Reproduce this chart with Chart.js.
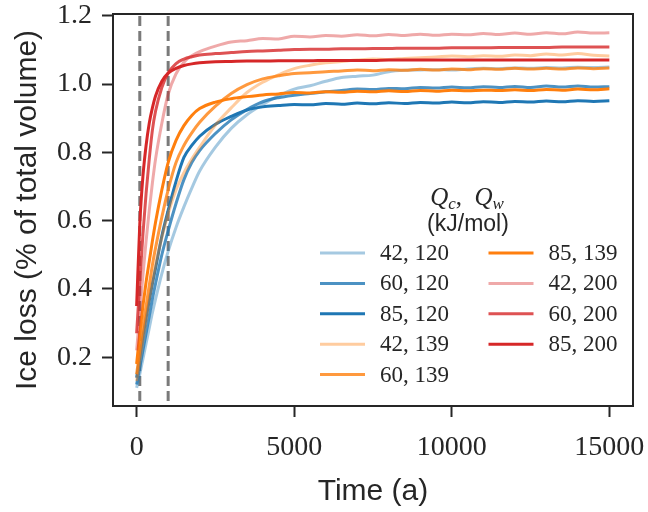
<!DOCTYPE html>
<html>
<head>
<meta charset="utf-8">
<script src="https://cdn.jsdelivr.net/npm/chart.js@4.4.1/dist/chart.umd.min.js"></script>
<style>
  html, body { margin: 0; padding: 0; background: #fff; }
</style>
</head>
<body>
<canvas id="iceChart" width="648" height="512"></canvas>
<script>
// years (a)
const years = [0, 100, 200, 300, 400, 500, 600, 800, 1000, 1250, 1500, 1750,
  2000, 2500, 3000, 3500, 4000, 4500, 5000, 5500, 6000, 6500, 7000, 7500, 8000,
  8500, 9000, 9500, 10000, 10500, 11000, 11500, 12000, 12500, 13000, 13500, 14000, 14500, 15000];

// legend labels (Qc, Qw)
const seriesLabels = ['42, 120', '60, 120', '85, 120', '42, 139', '60, 139', '85, 139', '42, 200', '60, 200', '85, 200'];

// ice loss, % of total volume
const loss_42_120 = [0.11, 0.15, 0.195, 0.24, 0.285, 0.33, 0.37, 0.445, 0.51, 0.58, 0.64, 0.695,
  0.745, 0.815, 0.87, 0.91, 0.94, 0.965, 0.985, 0.995, 1.008, 1.019, 1.023, 1.026, 1.036,
  1.04, 1.041, 1.042, 1.041, 1.044, 1.046, 1.045, 1.047, 1.046, 1.048, 1.047, 1.049, 1.048, 1.05];
const loss_60_120 = [0.12, 0.17, 0.22, 0.27, 0.32, 0.37, 0.415, 0.50, 0.57, 0.65, 0.72, 0.77,
  0.805, 0.855, 0.895, 0.925, 0.948, 0.96, 0.967, 0.972, 0.977, 0.981, 0.985, 0.984, 0.987,
  0.986, 0.99, 0.988, 0.991, 0.989, 0.992, 0.99, 0.993, 0.99, 0.994, 0.991, 0.994, 0.991, 0.992];
const loss_85_120 = [0.14, 0.2, 0.26, 0.315, 0.365, 0.415, 0.46, 0.555, 0.63, 0.715, 0.785, 0.82,
  0.847, 0.882, 0.905, 0.924, 0.933, 0.937, 0.94, 0.939, 0.943, 0.941, 0.944, 0.942, 0.945,
  0.943, 0.946, 0.944, 0.947, 0.945, 0.948, 0.946, 0.949, 0.947, 0.95, 0.948, 0.951, 0.949, 0.951];
const loss_42_139 = [0.13, 0.19, 0.25, 0.31, 0.37, 0.42, 0.47, 0.55, 0.62, 0.69, 0.74, 0.78,
  0.815, 0.88, 0.93, 0.975, 1.005, 1.027, 1.045, 1.055, 1.062, 1.066, 1.07, 1.073, 1.072,
  1.075, 1.077, 1.079, 1.082, 1.08, 1.083, 1.081, 1.085, 1.083, 1.088, 1.085, 1.089, 1.084, 1.082];
const loss_60_139 = [0.15, 0.22, 0.29, 0.35, 0.41, 0.47, 0.52, 0.61, 0.69, 0.77, 0.82, 0.857,
  0.888, 0.935, 0.972, 0.998, 1.015, 1.024, 1.031, 1.033, 1.036, 1.038, 1.041, 1.039, 1.042,
  1.04, 1.043, 1.041, 1.044, 1.042, 1.045, 1.043, 1.046, 1.044, 1.046, 1.044, 1.047, 1.045, 1.047];
const loss_85_139 = [0.18, 0.27, 0.35, 0.42, 0.48, 0.54, 0.595, 0.69, 0.77, 0.835, 0.878, 0.908,
  0.928, 0.947, 0.957, 0.963, 0.968, 0.971, 0.975, 0.974, 0.977, 0.976, 0.979, 0.977, 0.98,
  0.978, 0.981, 0.979, 0.982, 0.98, 0.982, 0.981, 0.983, 0.981, 0.984, 0.982, 0.985, 0.983, 0.986];
const loss_42_200 = [0.22, 0.33, 0.44, 0.54, 0.63, 0.71, 0.78, 0.885, 0.97, 1.03, 1.064, 1.083,
  1.095, 1.111, 1.123, 1.127, 1.133, 1.132, 1.14, 1.138, 1.142, 1.14, 1.144, 1.141, 1.145,
  1.142, 1.146, 1.143, 1.146, 1.144, 1.148, 1.145, 1.149, 1.146, 1.15, 1.147, 1.152, 1.149, 1.15];
const loss_60_200 = [0.27, 0.42, 0.56, 0.68, 0.78, 0.865, 0.92, 0.99, 1.032, 1.06, 1.073, 1.08,
  1.085, 1.089, 1.092, 1.095, 1.097, 1.099, 1.101, 1.102, 1.102, 1.103, 1.103, 1.104, 1.104,
  1.105, 1.105, 1.105, 1.106, 1.106, 1.106, 1.107, 1.107, 1.107, 1.107, 1.108, 1.108, 1.108, 1.108];
const loss_85_200 = [0.35, 0.59, 0.73, 0.82, 0.885, 0.93, 0.965, 1.008, 1.032, 1.046, 1.054, 1.059,
  1.062, 1.065, 1.066, 1.067, 1.067, 1.068, 1.068, 1.068, 1.069, 1.069, 1.069, 1.069, 1.07,
  1.07, 1.07, 1.07, 1.07, 1.07, 1.07, 1.07, 1.07, 1.07, 1.07, 1.07, 1.07, 1.07, 1.07];

const allSeries = [loss_42_120, loss_60_120, loss_85_120, loss_42_139, loss_60_139,
  loss_85_139, loss_42_200, loss_60_200, loss_85_200];

// vertical dashed markers (a)
const markerYears = [100, 1000];

const xTicks = [0, 5000, 10000, 15000];
const yTicks = [0.2, 0.4, 0.6, 0.8, 1.0, 1.2];

const seriesColors = [
  'rgba(31,119,180,0.4)', 'rgba(31,119,180,0.8)', 'rgb(31,119,180)',
  'rgba(255,127,14,0.4)', 'rgba(255,127,14,0.8)', 'rgb(255,127,14)',
  'rgba(214,39,40,0.4)', 'rgba(214,39,40,0.8)', 'rgb(214,39,40)'
];

const ink = '#262626';

const datasets = allSeries.map((vals, i) => ({
  label: seriesLabels[i],
  data: vals.map((v, k) => ({ x: years[k], y: v })),
  borderColor: seriesColors[i],
  borderWidth: 3,
  pointRadius: 0,
  fill: false,
  cubicInterpolationMode: 'monotone',
  order: allSeries.length - 1 - i
}));

// dashed marker lines, behind the curves
const markerPlugin = {
  id: 'markers',
  beforeDatasetsDraw(chart) {
    const { ctx, chartArea, scales } = chart;
    ctx.save();
    ctx.strokeStyle = '#7a7a7a';
    ctx.lineWidth = 3;
    ctx.setLineDash([10, 5]);
    markerYears.forEach(yr => {
      const px = scales.x.getPixelForValue(yr);
      ctx.beginPath();
      ctx.moveTo(px, chartArea.top + 2);
      ctx.lineTo(px, chartArea.bottom);
      ctx.stroke();
    });
    ctx.restore();
  }
};

// full frame around the axes
const framePlugin = {
  id: 'frame',
  afterDraw(chart) {
    const { ctx, chartArea: a } = chart;
    ctx.save();
    ctx.strokeStyle = ink;
    ctx.lineWidth = 2;
    ctx.strokeRect(a.left, a.top, a.right - a.left, a.bottom - a.top);
    ctx.restore();
  }
};

// legend in two columns with a two-line title
const legendPlugin = {
  id: 'qLegend',
  afterDraw(chart) {
    const { ctx, chartArea: a } = chart;
    const cx = a.right - 166;
    ctx.save();
    ctx.fillStyle = ink;
    ctx.textBaseline = 'alphabetic';
    const parts = [
      ['Q', "italic 25px 'Liberation Serif'", 0],
      ['c', "italic 17px 'Liberation Serif'", 4],
      [',  ', "25px 'Liberation Serif'", 0],
      ['Q', "italic 25px 'Liberation Serif'", 0],
      ['w', "italic 17px 'Liberation Serif'", 4]
    ];
    let total = 0;
    parts.forEach(p => { ctx.font = p[1]; total += ctx.measureText(p[0]).width; });
    let x = cx - total / 2;
    parts.forEach(p => {
      ctx.font = p[1];
      ctx.fillText(p[0], x, a.top + 191 + p[2]);
      x += ctx.measureText(p[0]).width;
    });
    ctx.font = "23px 'Liberation Sans'";
    ctx.textAlign = 'center';
    ctx.fillText('(kJ/mol)', cx + 1, a.top + 217);

    ctx.textAlign = 'left';
    ctx.textBaseline = 'middle';
    ctx.font = "23px 'Liberation Serif'";
    const rowGap = 30.4;
    seriesLabels.forEach((lab, i) => {
      const col = i < 5 ? 0 : 1;
      const row = i < 5 ? i : i - 5;
      const lx = a.left + 207 + col * 168.5;
      const ly = a.top + 239 + row * rowGap;
      ctx.strokeStyle = seriesColors[i];
      ctx.lineWidth = 3;
      ctx.beginPath();
      ctx.moveTo(lx, ly);
      ctx.lineTo(lx + 45, ly);
      ctx.stroke();
      ctx.fillText(lab, lx + 60, ly + 1);
    });
    ctx.restore();
  }
};

const tickFont = { family: "'Liberation Serif', serif", size: 28 };
const titleFont = { family: "'Liberation Sans', sans-serif", size: 30 };

new Chart(document.getElementById('iceChart'), {
  type: 'line',
  data: { datasets: datasets },
  options: {
    responsive: false,
    animation: false,
    layout: { padding: { top: 14, right: 15, left: 0, bottom: 0 } },
    plugins: { legend: { display: false }, tooltip: { enabled: false } },
    scales: {
      x: {
        type: 'linear',
        min: -750,
        max: 15750,
        afterBuildTicks: s => { s.ticks = xTicks.map(v => ({ value: v })); },
        afterFit: s => { s.height = 106; s.paddingLeft = 0; s.paddingRight = 0; },
        ticks: { font: tickFont, color: ink, padding: 14, maxRotation: 0, callback: v => String(v) },
        grid: { drawOnChartArea: false, tickLength: 11, tickWidth: 2, tickColor: ink },
        border: { display: true, color: ink, width: 2 },
        title: { display: true, text: 'Time (a)', font: titleFont, color: ink, padding: { top: 0, bottom: 2 } }
      },
      y: {
        min: 0.057,
        max: 1.205,
        afterBuildTicks: s => { s.ticks = yTicks.map(v => ({ value: v })); },
        afterFit: s => { s.width = 113; s.paddingTop = 0; s.paddingBottom = 0; },
        ticks: { font: tickFont, color: ink, padding: 10, callback: v => v.toFixed(1) },
        grid: { drawOnChartArea: false, tickLength: 11, tickWidth: 2, tickColor: ink },
        border: { display: true, color: ink, width: 2 },
        title: { display: true, text: 'Ice loss (% of total volume)', font: titleFont, color: ink, padding: { top: 10, bottom: 0 } }
      }
    }
  },
  plugins: [markerPlugin, framePlugin, legendPlugin]
});
</script>
</body>
</html>
